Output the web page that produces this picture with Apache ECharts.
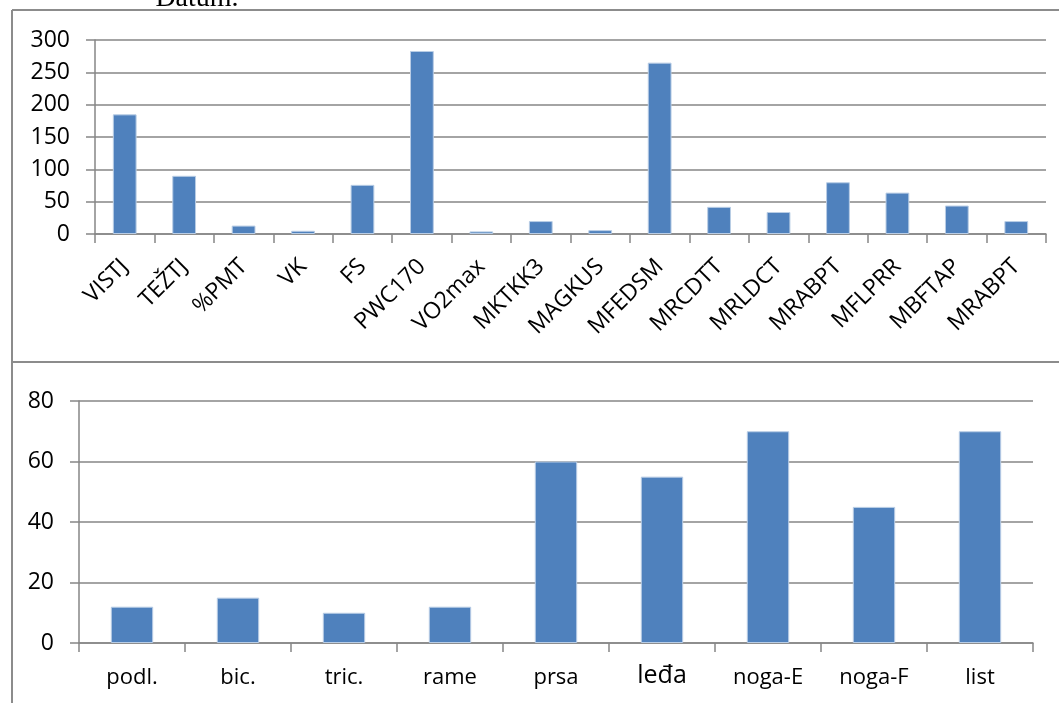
<!DOCTYPE html>
<html>
<head>
<meta charset="utf-8">
<title>Datum.</title>
<script src="https://cdn.jsdelivr.net/npm/echarts@6/dist/echarts.min.js"></script>
<style>
  html, body { margin: 0; padding: 0; background: #ffffff; }
  #chart { width: 1059px; height: 703px; }
</style>
</head>
<body>
<div id="chart"></div>
<script>
// Upper panel: test indicators
const testCategories = ['VISTJ', 'TEŽTJ', '%PMT', 'VK', 'FS', 'PWC170', 'VO2max', 'MKTKK3',
  'MAGKUS', 'MFEDSM', 'MRCDTT', 'MRLDCT', 'MRABPT', 'MFLPRR', 'MBFTAP', 'MRABPT'];
const testValues = [185, 90, 13, 5, 76, 283, 4, 20, 6, 265, 42, 34, 80, 64, 44, 20];
const testTicks = { min: 0, max: 300, interval: 50 };

// Lower panel: body regions
const regionCategories = ['podl.', 'bic.', 'tric.', 'rame', 'prsa', 'leđa', 'noga-E', 'noga-F', 'list'];
const regionValues = [12, 15, 10, 12, 60, 55, 70, 45, 70];
const regionTicks = { min: 0, max: 80, interval: 20 };

const FONT = '"Open Sans", "Noto Sans", sans-serif';
const GRID_GRAY = '#868686';
const BAR_BLUE = '#4f81bd';

const chart = echarts.init(document.getElementById('chart'), null, { renderer: 'canvas' });

function valueAxis(gridIndex, ticks) {
  return {
    type: 'value',
    gridIndex: gridIndex,
    min: ticks.min,
    max: ticks.max,
    interval: ticks.interval,
    axisLine: { show: true, lineStyle: { color: GRID_GRAY, width: 1.5 } },
    axisTick: { show: true, inside: false, length: 9, lineStyle: { color: GRID_GRAY, width: 1.5 } },
    splitLine: { show: true, lineStyle: { color: GRID_GRAY, width: 1.5 } },
    axisLabel: { color: '#000', fontFamily: FONT, fontSize: 23, margin: 25 }
  };
}

function barSeries(axisIndex, values) {
  return {
    type: 'bar',
    xAxisIndex: axisIndex,
    yAxisIndex: axisIndex,
    data: values,
    barWidth: '40%',
    itemStyle: { color: BAR_BLUE, borderColor: '#b9cde5', borderWidth: 1 },
    animation: false
  };
}

chart.setOption({
  animation: false,
  backgroundColor: '#ffffff',
  grid: [
    { left: 95, right: 13, top: 40, height: 194 },
    { left: 79, right: 26, top: 401, height: 242 }
  ],
  xAxis: [
    {
      type: 'category',
      gridIndex: 0,
      data: testCategories,
      axisLine: { show: true, lineStyle: { color: GRID_GRAY, width: 1.5 } },
      axisTick: { show: true, length: 9, lineStyle: { color: GRID_GRAY, width: 1.5 } },
      axisLabel: { color: '#000', fontFamily: FONT, fontSize: 23, rotate: 45, margin: 29, interval: 0 }
    },
    {
      type: 'category',
      gridIndex: 1,
      data: regionCategories,
      axisLine: { show: true, lineStyle: { color: GRID_GRAY, width: 1.5 } },
      axisTick: { show: true, length: 9, lineStyle: { color: GRID_GRAY, width: 1.5 } },
      axisLabel: {
        color: '#000', fontFamily: FONT, fontSize: 22, lineHeight: 22, margin: 24, interval: 0,
        formatter: function (v) { return v === 'leđa' ? '{big|' + v + '}' : v; },
        rich: { big: { fontFamily: FONT, fontSize: 25, lineHeight: 18, color: '#000' } }
      }
    }
  ],
  yAxis: [valueAxis(0, testTicks), valueAxis(1, regionTicks)],
  series: [barSeries(0, testValues), barSeries(1, regionValues)],
  graphic: [
    // table borders around the two chart cells
    { type: 'line', shape: { x1: 12, y1: 10, x2: 1059, y2: 10 }, style: { stroke: '#8c8c8c', lineWidth: 2 } },
    { type: 'line', shape: { x1: 12, y1: 362, x2: 1059, y2: 362 }, style: { stroke: '#8c8c8c', lineWidth: 2 } },
    { type: 'line', shape: { x1: 12, y1: 10, x2: 12, y2: 703 }, style: { stroke: '#8c8c8c', lineWidth: 2 } },
    // heading line above the table, mostly scrolled out of view
    {
      type: 'text', x: 197, y: 13, z: 10,
      style: {
        text: 'Datum.', fontFamily: '"Liberation Serif", "DejaVu Serif", serif', fontSize: 28,
        fill: '#000', align: 'center', verticalAlign: 'bottom'
      }
    }
  ]
});
</script>
</body>
</html>
